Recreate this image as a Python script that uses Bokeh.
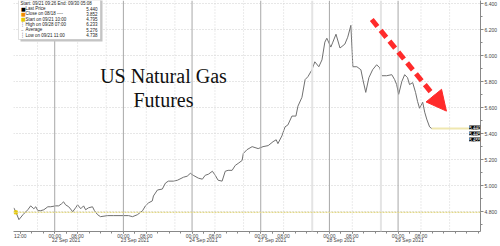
from bokeh.plotting import figure
from bokeh.models import (Range1d, FixedTicker, Span, Label, BoxAnnotation,
                          Arrow, NormalHead, ColumnDataSource, NumeralTickFormatter)
from bokeh.embed import file_html
from bokeh.resources import INLINE

# ---------------- data ----------------
trading_days = [21, 22, 23, 24, 27, 28, 29, 30]
day_names = ["21 Sep 2021", "22 Sep 2021", "23 Sep 2021", "24 Sep 2021",
             "27 Sep 2021", "28 Sep 2021", "29 Sep 2021", "30 Sep 2021"]

times = [
    "21 09:42", "21 10:24", "21 11:30", "21 12:54", "21 14:36", "21 15:36", "21 16:42", "21 17:24",
    "21 18:06", "21 19:06", "21 20:12", "21 21:36", "21 22:36",
    "22 00:18", "22 01:24", "22 02:24", "22 03:06", "22 03:48", "22 04:54", "22 06:18", "22 07:18",
    "22 08:00", "22 09:06", "22 10:06", "22 10:48", "22 11:48", "22 13:12", "22 13:54", "22 15:00",
    "22 16:00", "22 18:30", "22 20:36",
    "23 00:00", "23 01:48", "23 03:12", "23 04:54", "23 06:42", "23 07:42", "23 08:48", "23 10:06",
    "23 10:30", "23 11:54", "23 13:36", "23 14:42", "23 15:42", "23 17:30", "23 18:54", "23 21:00",
    "23 22:18", "23 23:24",
    "24 00:24", "24 02:12", "24 03:36", "24 04:36", "24 05:42", "24 07:06", "24 08:06", "24 09:06",
    "24 10:30", "24 11:36", "24 12:36", "24 14:00", "24 15:06", "24 16:06", "24 17:30", "24 17:54",
    "24 19:12", "24 21:00", "24 23:06",
    "27 00:48", "27 02:36", "27 04:18", "27 05:24", "27 06:00", "27 07:24", "27 08:30", "27 09:30",
    "27 10:54", "27 12:18", "27 13:00", "27 14:24", "27 15:30", "27 16:30", "27 17:54", "27 18:54",
    "27 20:18", "27 21:24", "27 22:24", "27 23:06",
    "28 00:30", "28 01:12", "28 02:18", "28 03:42", "28 05:24", "28 06:24", "28 07:30", "28 08:12",
    "28 09:36", "28 11:00", "28 11:42", "28 12:42", "28 13:48", "28 15:06", "28 16:30", "28 17:36",
    "28 18:18", "28 20:00", "28 21:48", "28 22:48", "28 23:30",
    "29 00:12", "29 01:18", "29 02:18", "29 03:18", "29 04:00", "29 05:06", "29 06:06", "29 06:48",
    "29 07:30", "29 08:36", "29 09:18", "29 10:00", "29 11:00", "29 11:42",
]
prices = [
    4.830, 4.800, 4.739, 4.777, 4.815, 4.845, 4.823, 4.838, 4.808, 4.808, 4.815, 4.838, 4.838,
    4.845, 4.845, 4.861, 4.876, 4.853, 4.838, 4.800, 4.830, 4.853, 4.823, 4.845, 4.815, 4.830,
    4.838, 4.808, 4.777, 4.762, 4.770, 4.770,
    4.770, 4.770, 4.762, 4.777, 4.808, 4.845, 4.868, 4.883, 4.921, 4.967, 4.974, 5.020, 5.035,
    5.035, 5.042, 5.065, 5.073, 5.095,
    5.080, 5.058, 5.050, 5.080, 5.088, 5.111, 5.080, 5.042, 5.035, 5.111, 5.118, 5.118, 5.156,
    5.171, 5.194, 5.247, 5.277, 5.300, 5.285,
    5.300, 5.308, 5.338, 5.353, 5.323, 5.383, 5.452, 5.467, 5.535, 5.535, 5.611, 5.679, 5.815,
    5.838, 5.891, 5.952, 5.914, 5.967, 6.103, 6.133,
    6.065, 6.103, 6.164, 6.058, 6.088, 6.141, 6.232, 5.914, 5.914, 5.891, 5.815, 5.717, 5.830,
    5.891, 5.929, 5.906, 5.845, 5.845, 5.853, 5.815, 5.777,
    5.702, 5.800, 5.853, 5.830, 5.777, 5.792, 5.717, 5.648, 5.595, 5.641, 5.565, 5.512, 5.452,
    5.440,
]

y_ticks = [4.8, 5.0, 5.2, 5.4, 5.6, 5.8, 6.0, 6.2, 6.4]
legend_names = ["Last Price", "Close on 08/18 ----", "Start on 09/21 10:00",
                "High on 09/28 07:00", "Average", "Low on 09/21 11:00"]
legend_values = ["5.440", "3.852", "4.795", "6.233", "5.276", "4.738"]
legend_header = "Start: 09/21 09:26 End: 09/30 05:08"
start_price = 4.795
last_price = 5.440
price_tags = ["5.440", "5.445", "5.455"]
title_lines = ["US Natural Gas", "Futures"]


def to_x(t):
    d, hm = t.split(" ")
    h, m = hm.split(":")
    return trading_days.index(int(d)) * 24 + int(h) + int(m) / 60.0


xs = [to_x(t) for t in times]
X0, X1 = xs[0] - 0.1, 172.8

FL, FB = 13, 234  # frame left / bottom (canvas px)

p = figure(width=500, height=246, output_backend="svg", toolbar_location=None,
           x_range=Range1d(X0, X1), y_range=Range1d(4.648, 6.423),
           y_axis_location="right", min_border_left=FL, min_border_top=0,
           min_border_right=0, min_border_bottom=0)
p.outline_line_color = None
p.background_fill_color = "white"
p.border_fill_color = "white"

font = "Liberation Sans"

# y axis (right)
ya = p.yaxis[0]
ya.ticker = FixedTicker(ticks=y_ticks, minor_ticks=[round(v + 0.1, 1) for v in [4.6] + y_ticks])
ya.formatter = NumeralTickFormatter(format="0.000")
ya.major_label_text_font_size = "5px"
ya.major_label_text_font = font
ya.major_label_text_color = "#444"
ya.axis_line_color = "#888"
ya.major_tick_line_color = "#888"
ya.minor_tick_line_color = "#888"
ya.major_tick_out = 3
ya.major_tick_in = 0
ya.minor_tick_out = 2
ya.minor_tick_in = 0
ya.major_label_standoff = 1

# x axis: times on the first line, dates on the second line
tick_pos = [12.0]
tick_text = {12.0: "12:00"}
for i in range(1, 7):
    d0 = i * 24.0
    tick_pos += [d0, d0 + 4, d0 + 8]
    tick_text[d0] = "00:00"
    tick_text[d0 + 4] = "\n" + day_names[i]
    tick_text[d0 + 8] = "08:00"
minor_x = [i * 4.0 for i in range(3, 44)]
xa = p.xaxis[0]
xa.ticker = FixedTicker(ticks=tick_pos, minor_ticks=minor_x)
xa.major_label_overrides = tick_text
xa.major_label_text_font_size = "5px"
xa.major_label_text_font = font
xa.major_label_text_color = "#444"
xa.major_label_text_line_height = 0.8
xa.axis_line_color = "#888"
xa.major_tick_line_color = "#888"
xa.minor_tick_line_color = "#888"
xa.major_tick_out = 2
xa.major_tick_in = 0
xa.minor_tick_out = 2
xa.minor_tick_in = 0
xa.major_label_standoff = -1

p.xgrid.visible = False
p.ygrid.ticker = FixedTicker(ticks=y_ticks)
p.ygrid.grid_line_color = "#cfcfcf"
p.ygrid.grid_line_dash = "1 2"

# vertical guides
for i in range(0, 7):
    d0 = i * 24.0
    if i >= 1:
        p.add_layout(Span(location=d0, dimension="height", line_color="#a8a8a8", line_width=1))
        p.add_layout(Span(location=d0 + 8, dimension="height", line_color="#d6d6d6",
                          line_width=1, line_dash="1 2"))
    if i in (4, 5):
        p.add_layout(Span(location=d0 + 18, dimension="height", line_color="#e4e4e4", line_width=2))
    else:
        p.add_layout(Span(location=d0 + 18, dimension="height", line_color="#d6d6d6",
                          line_width=1, line_dash="1 2"))

# start price reference line
p.add_layout(Span(location=start_price, dimension="width", line_color="#e2d98a",
                  line_width=1.2, line_dash="2 1"))

# last price extension
p.segment(x0=[xs[-1]], y0=[last_price], x1=[X1], y1=[last_price],
          line_color="#efe7b0", line_width=2)

# price line
src = ColumnDataSource(dict(x=xs, y=prices))
p.line("x", "y", source=src, line_color="#707070", line_width=1)
p.scatter(x=[xs[1]], y=[start_price], size=3, marker="square", color="#e6c800")

# red dashed arrow
p.add_layout(Arrow(x_start=134.8, y_start=6.277, x_end=160.9, y_end=5.573,
                   line_color="#ff2b2b", line_width=5, line_dash="9 5",
                   end=NormalHead(size=20, fill_color="#ff2b2b", line_color="#ff2b2b",
                                  line_width=1)))


def lab(cx, cy, text, **kw):
    opts = dict(text_font=font, text_font_size="4.5px", text_color="#222",
                text_baseline="middle", x_units="screen", y_units="screen")
    opts.update(kw)
    p.add_layout(Label(x=cx - FL, y=FB - cy, text=text, **opts))


# title
lab(163, 78, title_lines[0], text_font="Liberation Serif", text_font_size="20px",
    text_align="center", text_baseline="alphabetic", text_color="#111")
lab(163, 102, title_lines[1], text_font="Liberation Serif", text_font_size="20px",
    text_align="center", text_baseline="alphabetic", text_color="#111")

# legend box
p.add_layout(BoxAnnotation(left=20 - FL, right=102 - FL, top=FB - 2, bottom=FB - 44,
                           left_units="screen", right_units="screen",
                           top_units="screen", bottom_units="screen",
                           fill_color="#c4c4c4", fill_alpha=1, line_color=None))
p.add_layout(BoxAnnotation(left=18 - FL, right=100 - FL, top=FB, bottom=FB - 42,
                           left_units="screen", right_units="screen",
                           top_units="screen", bottom_units="screen",
                           fill_color="white", fill_alpha=1, line_color="#999", line_width=1))
lab(20, 5.5, legend_header)
rows_y = [11, 16.3, 21.6, 26.9, 32.2, 37.5]
marks = [("■", "#000000"), ("■", "#f08c00"), ("■", "#e6c800"),
         ("┆", "#666"), ("–", "#666"), ("┆", "#666")]
for (m, c), nm, v, cy in zip(marks, legend_names, legend_values, rows_y):
    lab(20.5, cy, m, text_color=c, text_font="DejaVu Sans", text_font_size="5px")
    lab(25, cy, nm)
    lab(97, cy, v, text_align="right")

# price tags next to the right axis
for k, (t, cy) in enumerate(zip(price_tags, [130, 136, 142])):
    lab(480, cy, t, text_color="white", text_font_size="4.5px", text_align="right",
        background_fill_color="#000", background_fill_alpha=1)

open("out.html", "w").write(file_html(p, INLINE))
